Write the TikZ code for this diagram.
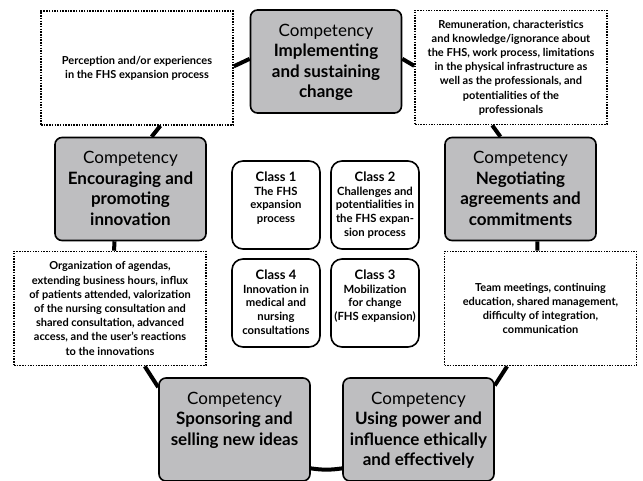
\documentclass[tikz,border=0pt]{standalone}
\usepackage{fontspec}
\setmainfont{Lato}
\usetikzlibrary{shapes}
\definecolor{compgray}{RGB}{190,190,192}
\newcommand{\ringw}{4pt}
\newcommand{\boxw}{1.6pt}
\newcommand{\compbox}[1]{\parbox[c][93pt][t]{147pt}{\centering\vspace*{9pt}#1}}
\newcommand{\clsbox}[1]{\parbox[c][78pt][t]{86pt}{\centering\vspace*{6pt}#1}}

\begin{document}
\begin{tikzpicture}[x=1pt,y=-1pt]
    %\draw[help lines] (0,0) grid (643,481);
    \useasboundingbox (0,0) rectangle (643,481);
    \tikzset{
        comp/.style={draw, fill=compgray, rounded corners=7pt, line width=\boxw,
            inner xsep=2pt, inner ysep=5pt, font=\fontsize{17}{20.5}\selectfont},
        note/.style={draw, dash pattern=on 1.5pt off 1.2pt, line width=1.6pt, fill=white,
            minimum width=192pt, minimum height=114pt, align=center,
            font=\bfseries\fontsize{11}{14.2}\selectfont},
        cls/.style={draw, rounded corners=11pt, line width=\boxw,
            inner xsep=1pt, inner ysep=5pt, font=\bfseries\fontsize{11.3}{13.6}\selectfont},
        ring/.style={line width=\ringw}
    }
    % competencies
    \node[comp] (impl) at (326,61.5) {\compbox{Competency\\ \textbf{Implementing\\ and sustaining\\ change}}};
    \node[comp] (encour) at (130.5,189) {\compbox{Competency\\ \textbf{Encouraging and\\ promoting\\ innovation}}};
    \node[comp] (negot) at (520.5,189) {\compbox{Competency\\ \textbf{Negotiating\\ agreements and\\ commitments}}};
    \node[comp] (spons) at (234.5,429.5) {\compbox{Competency\\ \textbf{Sponsoring and\\ selling new ideas}}};
    \node[comp] (usingp) at (418.5,429.5) {\compbox{Competency\\ \textbf{Using power and\\ influence ethically\\ and effectively}}};
    % notes
    \node[note] (persp) at (137,68) {Perception and/or experiences\\ in the FHS expansion process};
    \node[note] (remun) at (511,67.5) {Remuneration, characteristics\\ and knowledge/ignorance about\\ the FHS, work process, limitations\\ in the physical infrastructure as\\ well as the professionals, and\\ potentialities of the\\ professionals};
    \node[note] (organ) at (110,308.5) {Organization of agendas,\\ extending business hours, influx\\ of patients attended, valorization\\ of the nursing consultation and\\ shared consultation, advanced\\ access, and the user's reactions\\ to the innovations};
    \node[note] (team) at (540.5,308.5) {Team meetings, continuing\\ education, shared management,\\ difficulty of integration,\\ communication};
    % classes
    \node[cls] (class1) at (276,205) {\clsbox{{\fontsize{13}{16}\selectfont Class 1}\\ The FHS\\ expansion\\ process}};
    \node[cls] (class2) at (375,205) {\clsbox{{\fontsize{13}{16}\selectfont Class 2}\\ Challenges and\\ potentialities in\\ the FHS expan-\\ sion process}};
    \node[cls] (class4) at (276,303) {\clsbox{{\fontsize{13}{16}\selectfont Class 4}\\ Innovation in\\ medical and\\ nursing\\ consultations}};
    \node[cls] (class3) at (375,303) {\clsbox{{\fontsize{13}{16}\selectfont Class 3}\\ Mobilization\\ for change\\ (FHS expansion)}};
    % ring of links
    \draw[ring] (persp.1) -- (impl.178);
    \draw[ring] (impl.2) -- (remun.179);
    \draw[ring] (remun.-108) -- (negot.111);
    \draw[ring] (negot.-72) -- (team.93);
    \draw[ring] (team.-120) -- (usingp.30);
    \draw[ring] (usingp.-153) to[bend left=8] (spons.-27);
    \draw[ring] (spons.151) -- (organ.-59);
    \draw[ring] (organ.86) -- (encour.-107);
    \draw[ring] (encour.68) -- (persp.-68);
\end{tikzpicture}
\end{document}
